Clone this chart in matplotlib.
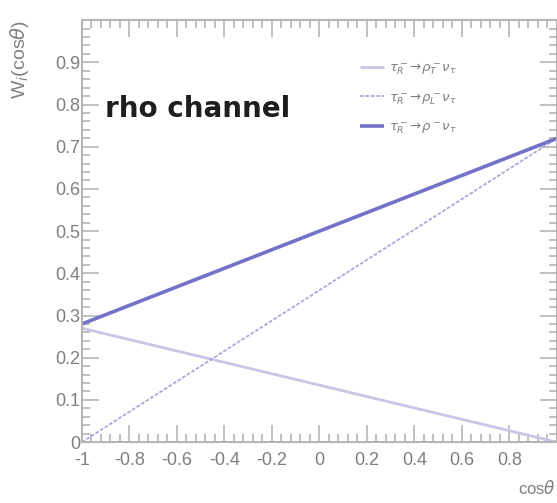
import matplotlib
matplotlib.use("Agg")
from matplotlib import pyplot as plt
from matplotlib.ticker import MultipleLocator
import numpy as np

# cos(theta) end points and W_i values
cos_theta = [-1.0, 1.0]
w_rho_T = [0.27, 0.0]
w_rho_L = [0.0, 0.72]
w_rho = [0.28, 0.72]

labels = [r"$\tau^-_R\!\rightarrow\!\rho^-_T\nu_\tau$",
          r"$\tau^-_R\!\rightarrow\!\rho^-_L\nu_\tau$",
          r"$\tau^-_R\!\rightarrow\!\rho^-\nu_\tau$"]

xlabels = ["-1", "-0.8", "-0.6", "-0.4", "-0.2", "0", "0.2", "0.4", "0.6", "0.8"]
ylabels = ["0", "0.1", "0.2", "0.3", "0.4", "0.5", "0.6", "0.7", "0.8", "0.9"]

grey = "#7f7f7f"
axis_grey = "#b5b5b5"
plt.rcParams["font.family"] = ["Liberation Sans", "DejaVu Sans"]

fig = plt.figure(figsize=(5.57, 5.03), dpi=100)
ax = fig.add_axes([0.147, 0.121, 0.853, 0.839])

ax.plot(cos_theta, w_rho_T, color="#c6c6e6", lw=2.0, label=labels[0], solid_capstyle="butt")
ax.plot(cos_theta, w_rho_L, color="#a8a8dc", lw=1.3, ls=(0, (2, 1)), label=labels[1])
ax.plot(cos_theta, w_rho, color="#7272c8", lw=2.6, label=labels[2], solid_capstyle="butt")

ax.set_xlim(-1, 1)
ax.set_ylim(0, 1)

ax.xaxis.set_minor_locator(MultipleLocator(0.04))
ax.yaxis.set_minor_locator(MultipleLocator(0.02))
ax.set_xticks(np.arange(-1, 0.81, 0.2))
ax.set_xticklabels(xlabels)
ax.set_yticks(np.arange(0, 0.91, 0.1))
ax.set_yticklabels(ylabels)

ax.tick_params(which="both", direction="in", top=True, right=True,
               color=axis_grey, labelcolor=grey, labelsize=13, width=1.2)
ax.tick_params(which="major", length=12)
ax.tick_params(axis="x", which="major", pad=7)
ax.tick_params(axis="y", which="major", pad=1)
ax.tick_params(which="minor", length=6)
for s in ax.spines.values():
    s.set_color(axis_grey)
    s.set_linewidth(1.5)

ax.text(0.048, 0.79, "rho channel", transform=ax.transAxes, fontsize=20,
        fontweight="bold", color="#1e1e1e", va="center", ha="left",
        family="DejaVu Sans")

leg = ax.legend(loc="upper left", bbox_to_anchor=(0.56, 0.93), frameon=False,
                fontsize=9.5, handlelength=1.8, labelspacing=1.0, handletextpad=0.4)
for t in leg.get_texts():
    t.set_color(grey)

fig.text(0.035, 0.96, r"W$_i$(cos$\theta$)", rotation=90, ha="center", va="top",
         color=grey, fontsize=14)
fig.text(0.998, 0.012, r"cos$\theta$", ha="right", va="bottom", color=grey, fontsize=12)

fig.savefig("out.png", dpi=100)
